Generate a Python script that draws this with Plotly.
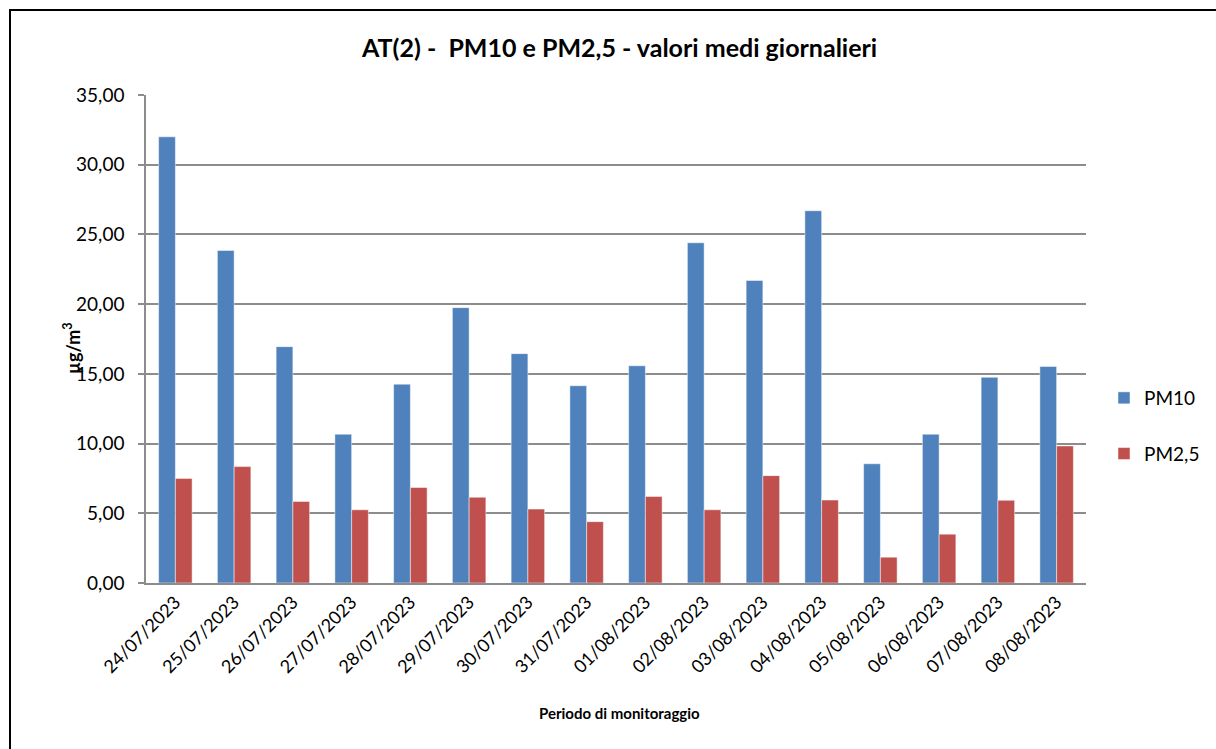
import plotly.graph_objects as go

dates = ["24/07/2023", "25/07/2023", "26/07/2023", "27/07/2023", "28/07/2023",
         "29/07/2023", "30/07/2023", "31/07/2023", "01/08/2023", "02/08/2023",
         "03/08/2023", "04/08/2023", "05/08/2023", "06/08/2023", "07/08/2023",
         "08/08/2023"]
pm10 = [32.0, 23.85, 16.95, 10.67, 14.26, 19.75, 16.45, 14.15, 15.58, 24.4,
        21.7, 26.7, 8.55, 10.67, 14.75, 15.53]
pm25 = [7.5, 8.35, 5.85, 5.25, 6.85, 6.15, 5.3, 4.4, 6.2, 5.25,
        7.7, 5.95, 1.85, 3.5, 5.93, 9.83]
y_ticks = [0, 5, 10, 15, 20, 25, 30, 35]

W, H = 1216, 749
L, R, T, B = 146, 1086, 95, 583

FONT = "Lato"

fig = go.Figure()
fig.add_trace(go.Bar(x=dates, y=pm10, name="PM10", marker_color="#4F81BD",
                     marker_line=dict(color="rgba(255,255,255,0.6)", width=0.8),
                     legendgroup="a"))
fig.add_trace(go.Bar(x=dates, y=pm25, name="PM2,5", marker_color="#C0504D",
                     marker_line=dict(color="rgba(255,255,255,0.6)", width=0.8),
                     legendgroup="b"))

def px_x(p):
    return (p - L) / (R - L)

def px_y(p):
    return (B - p) / (B - T)

fig.update_layout(
    width=W, height=H,
    margin=dict(l=L, r=W - R, t=T, b=H - B, autoexpand=False),
    paper_bgcolor="white", plot_bgcolor="white",
    separators=",.",
    barmode="group", bargap=0.43, bargroupgap=0,
    font=dict(family=FONT, color="black", size=16),
    showlegend=True,
    legend=dict(x=px_x(1104), y=px_y(426), xanchor="left", yanchor="middle",
                font=dict(size=19, family=FONT), tracegroupgap=28,
                bgcolor="rgba(0,0,0,0)"),
    xaxis=dict(type="category", tickangle=-45, showgrid=False,
               showline=True, linecolor="#8c8c8c", linewidth=1.5,
               ticks="", tickfont=dict(size=18, family=FONT)),
    yaxis=dict(range=[0, 35], tickvals=y_ticks, tickformat=".2f",
               showgrid=True, gridcolor="#8c8c8c", gridwidth=1.5,
               showline=True, linecolor="#8c8c8c", linewidth=1.5,
               ticks="outside", ticklen=6, tickcolor="#8c8c8c", tickwidth=1.5,
               ticklabelstandoff=10,
               tickfont=dict(size=19, family=FONT), zeroline=False),
)

fig.add_annotation(text="<b>AT(2) -  PM10 e PM2,5 - valori medi giornalieri</b>",
                   xref="paper", yref="paper", x=px_x(619), y=px_y(47),
                   showarrow=False, font=dict(size=25, family=FONT),
                   xanchor="center", yanchor="middle")
fig.add_annotation(text="<b>Periodo di monitoraggio</b>",
                   xref="paper", yref="paper", x=px_x(619), y=px_y(713),
                   showarrow=False, font=dict(size=15, family=FONT),
                   xanchor="center", yanchor="middle")
fig.add_annotation(text="<b>µg/m<sup>3</sup></b>",
                   xref="paper", yref="paper", x=px_x(72), y=px_y(348),
                   showarrow=False, textangle=-90, font=dict(size=18, family=FONT),
                   xanchor="center", yanchor="middle")

fig.add_shape(type="rect", xref="paper", yref="paper",
              x0=px_x(10), x1=px_x(1240), y0=px_y(770), y1=px_y(10),
              line=dict(color="black", width=2), layer="below")

fig.write_html("out.html", config={"displayModeBar": False},
               post_script="document.body.style.margin='0px';")
